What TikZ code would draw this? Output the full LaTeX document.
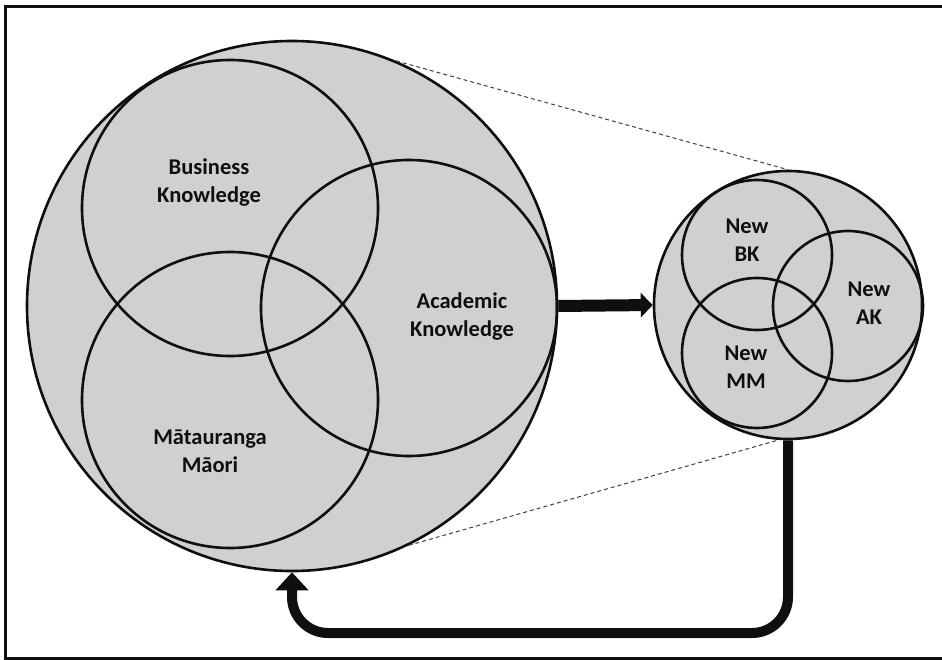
\documentclass[tikz,border=0pt]{standalone}
\usepackage{fontspec}
\setmainfont{Carlito}
\usetikzlibrary{arrows.meta}
\definecolor{venngray}{RGB}{208,208,208}
\definecolor{inkblack}{RGB}{15,15,15}
\begin{document}
\begin{tikzpicture}[x=1pt,y=-1pt,
  ring/.style={circle, draw=inkblack, line width=2.6pt, inner sep=0pt, minimum size=#1},
  lbl/.style={font=\bfseries\fontsize{22.5}{28}\selectfont, align=center, text=inkblack, inner sep=0pt},
  zoomline/.style={dash pattern=on 4pt off 3pt, line width=1pt, black!75},
  flow/.style={draw=inkblack, line width=10pt, -{Triangle[length=18pt,width=32pt]}},
  push/.style={draw=inkblack, line width=12pt, -{Triangle[length=12pt,width=24pt]}},
]
\useasboundingbox (0,0) rectangle (942,660);
% frame, open on the right
\draw[inkblack, line width=3pt] (950,6.5) -- (5.5,6.5) -- (5.5,658.5) -- (950,658.5);

% large knowledge circle with its three overlapping domains
\node[ring=530pt, fill=venngray] (big) at (292,306) {};
\node[ring=296pt] (bk) at (230,208) {};
\node[ring=296pt] (ak) at (409,308) {};
\node[ring=296pt] (mm) at (230,400) {};

% small circle of new knowledge
\node[ring=268pt, fill=venngray] (small) at (788,305) {};
\node[ring=150pt] (sbk) at (757,255) {};
\node[ring=150pt] (sak) at (848,306) {};
\node[ring=150pt] (smm) at (757,353) {};

% labels
\node[lbl] (tbk) at (209,183) {Business\\Knowledge};
\node[lbl] (tak) at (462,317) {Academic\\Knowledge};
\node[lbl] (tmm) at (210,451) {Mātauranga\\Māori};
\node[lbl] (tsbk) at (747,240) {New\\BK};
\node[lbl] (tsak) at (869,303) {New\\AK};
\node[lbl] (tsmm) at (746,367) {New\\MM};

% zoom guide lines
\draw[zoomline] (big.67) -- (small.90);
\draw[zoomline] (big.-64) -- (small.-94);

% flow between the circles
\draw[push] (big.east) -- (small.west);
\draw[flow, rounded corners=36pt] (small.south) -- (small.south |- 0,633) -- (big.south |- 0,633) -- (big.south);
\end{tikzpicture}
\end{document}
